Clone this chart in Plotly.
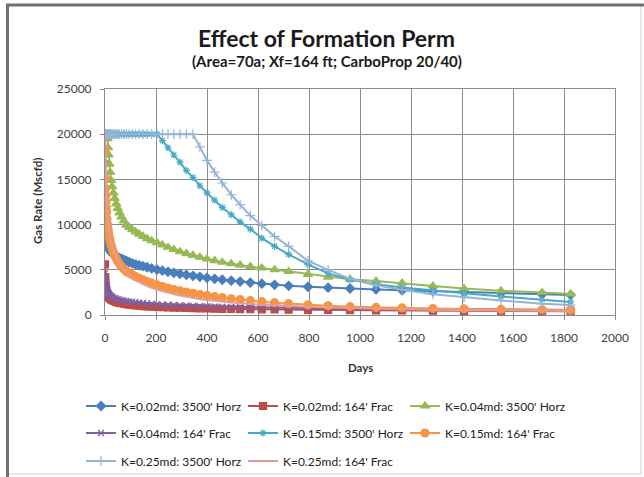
import plotly.graph_objects as go

# ---------------- data ----------------
days = [0, 1, 2, 3, 4, 5, 6, 8, 10, 12, 14, 17, 20, 24, 28, 33, 38, 44, 50, 57,
        65, 74, 84, 95, 107, 120, 134, 149, 165, 183, 204, 225, 247, 270, 294,
        319, 345, 372, 400, 430, 460, 495, 530, 570, 615, 665, 720, 796, 875,
        961, 1063, 1165, 1286, 1408, 1553, 1714, 1826]

k002_horz = [16800, 14000, 11500, 10200, 9400, 8900, 8550, 8100, 7800, 7600, 7450,
             7250, 7100, 6950, 6820, 6700, 6600, 6500, 6400, 6300, 6200, 6100,
             5980, 5850, 5720, 5600, 5500, 5400, 5280, 5150, 5020, 4900, 4780,
             4660, 4550, 4440, 4330, 4220, 4110, 4000, 3900, 3800, 3700, 3580,
             3460, 3340, 3230, 3120, 3020, 2930, 2830, 2740, 2640, 2540, 2420,
             2300, 2220]

k002_frac = [5600, 4200, 3600, 3200, 2950, 2750, 2600, 2400, 2250, 2130, 2030,
             1920, 1830, 1740, 1660, 1590, 1520, 1460, 1400, 1350, 1300, 1250,
             1200, 1150, 1110, 1070, 1030, 990, 960, 930, 900, 870, 845, 820,
             800, 780, 760, 740, 720, 700, 685, 670, 655, 640, 625, 610, 595,
             575, 555, 540, 520, 500, 485, 465, 445, 425, 410]

k004_horz = [20000, 20000, 20000, 20000, 20000, 20000, 20000, 20000, 19500, 18500,
             17700, 16700, 15800, 14900, 14200, 13500, 12900, 12300, 11800, 11300,
             10850, 10400, 9950, 9700, 9450, 9200, 8950, 8700, 8450, 8220, 8000,
             7750, 7500, 7250, 7000, 6800, 6600, 6400, 6200, 6020, 5850, 5680,
             5520, 5360, 5200, 5020, 4820, 4500, 4200, 3950, 3750, 3530, 3220,
             2920, 2680, 2500, 2330]

k004_frac = [4600, 4000, 3600, 3350, 3150, 3000, 2880, 2700, 2570, 2460, 2370,
             2260, 2170, 2080, 2000, 1930, 1870, 1810, 1750, 1700, 1650, 1600,
             1550, 1500, 1450, 1410, 1370, 1330, 1290, 1250, 1210, 1175, 1140,
             1110, 1080, 1050, 1020, 995, 970, 945, 920, 900, 880, 860, 840,
             820, 800, 775, 750, 725, 700, 675, 650, 625, 600, 575, 560]

k015_horz = [20000, 20000, 20000, 20000, 20000, 20000, 20000, 20000, 20000, 20000,
             20000, 20000, 20000, 20000, 20000, 20000, 20000, 20000, 20000, 20000,
             20000, 20000, 20000, 20000, 20000, 20000, 20000, 20000, 20000, 20000,
             20000, 19300, 18500, 17700, 16900, 16000, 15200, 14300, 13500, 12700,
             11900, 11100, 10300, 9500, 8500, 7600, 6700, 5600, 4600, 3900, 3400,
             3050, 2700, 2400, 2050, 1700, 1450]

k015_frac = [18300, 15100, 14000, 13200, 12500, 11900, 11400, 10600, 10000, 9500,
             9100, 8600, 8200, 7750, 7350, 6950, 6600, 6250, 5950, 5650, 5350,
             5080, 4820, 4650, 4450, 4250, 4060, 3880, 3700, 3520, 3330, 3150,
             2980, 2820, 2670, 2530, 2400, 2270, 2150, 2030, 1920, 1800, 1690,
             1580, 1470, 1360, 1250, 1120, 1010, 920, 840, 780, 720, 670, 620,
             580, 550]

k025_horz = [20000, 20000, 20000, 20000, 20000, 20000, 20000, 20000, 20000, 20000,
             20000, 20000, 20000, 20000, 20000, 20000, 20000, 20000, 20000, 20000,
             20000, 20000, 20000, 20000, 20000, 20000, 20000, 20000, 20000, 20000,
             20000, 20000, 20000, 20000, 20000, 20000, 20000, 18600, 17100, 15800,
             14600, 13300, 12200, 11000, 9900, 8700, 7600, 6000, 5000, 4000, 3300,
             2800, 2300, 1950, 1600, 1250, 1100]

k025_frac = [20000, 18500, 16500, 15000, 14000, 13200, 12500, 11500, 10800, 10200,
             9700, 9100, 8600, 8050, 7600, 7150, 6750, 6350, 6000, 5650, 5300,
             4980, 4680, 4400, 4130, 3880, 3650, 3430, 3220, 3020, 2820, 2640,
             2470, 2310, 2160, 2020, 1890, 1770, 1660, 1560, 1470, 1380, 1300,
             1220, 1140, 1060, 990, 900, 820, 750, 690, 630, 580, 540, 500, 460,
             430]

series_names = ["K=0.02md: 3500' Horz", "K=0.02md: 164' Frac", "K=0.04md: 3500' Horz",
                "K=0.04md: 164' Frac", "K=0.15md: 3500' Horz", "K=0.15md: 164' Frac",
                "K=0.25md: 3500' Horz", "K=0.25md: 164' Frac"]
series_values = [k002_horz, k002_frac, k004_horz, k004_frac,
                 k015_horz, k015_frac, k025_horz, k025_frac]

x_ticks = [0, 200, 400, 600, 800, 1000, 1200, 1400, 1600, 1800, 2000]
y_ticks = [0, 5000, 10000, 15000, 20000, 25000]

# ---------------- styles ----------------
colors = ["#4A7EBB", "#BE4B48", "#98B954", "#7D60A0",
          "#46AAC5", "#F69545", "#95B3D7", "#E39B98"]
symbols = ["diamond", "square", "triangle-up", "x-thin-open",
           "asterisk-open", "circle", "cross-thin-open", None]
sizes = [7, 7, 8, 6, 6, 8, 7, 0]
legend_of = ["legend", "legend", "legend", "legend2", "legend2", "legend2",
             "legend3", "legend3"]

FONT = "Lato, 'Open Sans', sans-serif"
FW, FH = 644, 477

# plot area in pixels
L, R, T, B = 105, 615, 89, 315
W, H = R - L, B - T


def px(x):
    return (x - L) / W


def py(y):
    return (B - y) / H


fig = go.Figure()
for name, vals, c, s, sz, lg in zip(series_names, series_values, colors, symbols,
                                    sizes, legend_of):
    if s is None:
        fig.add_trace(go.Scatter(x=days, y=vals, name=name, mode="lines",
                                 line=dict(color=c, width=2), legend=lg))
    else:
        fig.add_trace(go.Scatter(x=days, y=vals, name=name, mode="lines+markers",
                                 line=dict(color=c, width=2),
                                 marker=dict(symbol=s, size=sz, color=c,
                                             line=dict(color=c, width=1.2)),
                                 legend=lg))

axis_common = dict(showgrid=True, gridcolor="#8C8C8C", gridwidth=1,
                   showline=True, linecolor="#8C8C8C", linewidth=1, mirror=True,
                   ticks="outside", ticklen=4, tickcolor="#8C8C8C",
                   tickfont=dict(family=FONT, size=12, color="#404040"),
                   zeroline=False, tickformat="d", automargin=False)

fig.update_xaxes(range=[0, 2000], tickvals=x_ticks, ticklabelstandoff=8, **axis_common)
fig.update_yaxes(range=[0, 25000], tickvals=y_ticks, ticklabelstandoff=6, **axis_common)

legend_common = dict(orientation="h", font=dict(family=FONT, size=12, color="#222222"),
                     bgcolor="rgba(0,0,0,0)", xanchor="left", yanchor="middle",
                     xref="container", yref="container",
                     entrywidthmode="pixels", entrywidth=117, itemwidth=30,
                     tracegroupgap=0)


def cx(x):
    return x / FW


def cy(y):
    return 1 - y / FH


fig.update_layout(
    width=FW, height=FH,
    margin=dict(l=L, r=FW - R, t=T, b=FH - B, autoexpand=False),
    paper_bgcolor="white", plot_bgcolor="white",
    showlegend=True,
    legend=dict(x=cx(81), y=cy(406), **legend_common),
    legend2=dict(x=cx(81), y=cy(433), **legend_common),
    legend3=dict(x=cx(81), y=cy(461), **legend_common),
)

annotations = [
    dict(text="<b>Effect of Formation Perm</b>", x=px(326), y=py(38),
         font=dict(family=FONT, size=23, color="#1a1a1a")),
    dict(text="<b>(Area=70a; Xf=164 ft; CarboProp 20/40)</b>", x=px(327), y=py(61),
         font=dict(family=FONT, size=15, color="#1a1a1a")),
    dict(text="<b>Gas Rate (Mscfd)</b>", x=px(37), y=py(201), textangle=-90,
         font=dict(family=FONT, size=11.5, color="#333333")),
    dict(text="<b>Days</b>", x=px(360), y=py(367),
         font=dict(family=FONT, size=11.5, color="#333333")),
]
for a in annotations:
    fig.add_annotation(xref="paper", yref="paper", showarrow=False,
                       xanchor="center", yanchor="middle", **a)

# outer picture frame
fig.add_shape(type="rect", xref="paper", yref="paper",
              x0=px(7), x1=px(641), y0=py(474), y1=py(5),
              line=dict(color="#D0D0D0", width=1), layer="below")
fig.add_shape(type="line", xref="paper", yref="paper",
              x0=px(6), x1=px(644), y0=py(5), y1=py(5),
              line=dict(color="#707070", width=3))
fig.add_shape(type="line", xref="paper", yref="paper",
              x0=px(7.5), x1=px(7.5), y0=py(5), y1=py(477),
              line=dict(color="#707070", width=3))

fig.write_html("out.html")
